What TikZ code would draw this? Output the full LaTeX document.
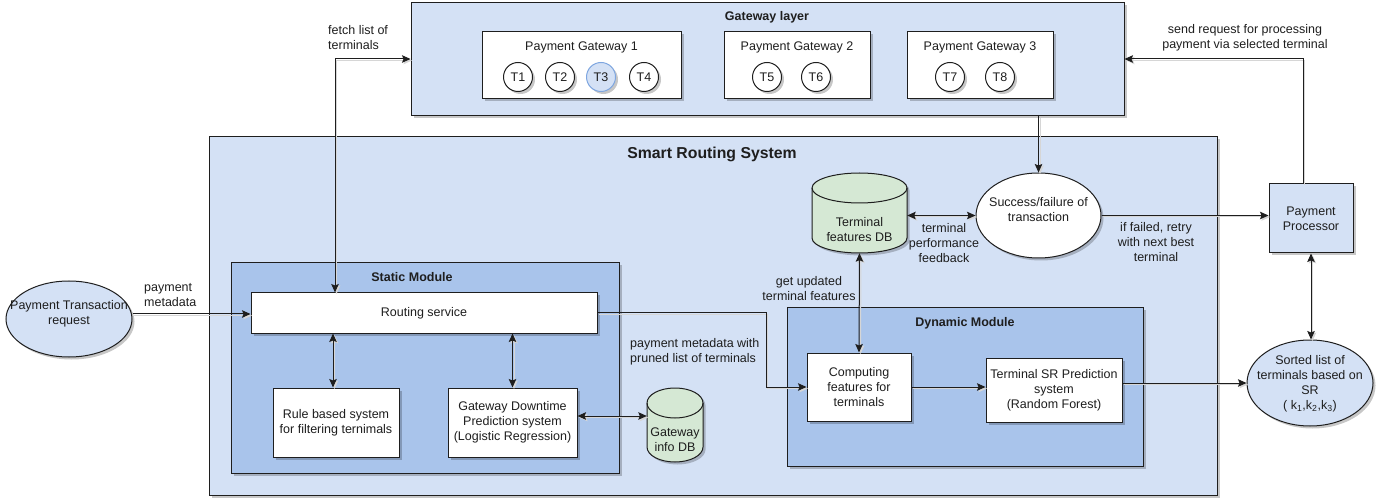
\documentclass[tikz,border=0pt]{standalone}
\usepackage{fontspec}
\setmainfont{Liberation Sans}
\usetikzlibrary{arrows.meta,shadows,shapes.geometric,calc}
\definecolor{lb}{HTML}{D4E1F5}
\definecolor{mb}{HTML}{A9C4EB}
\definecolor{gr}{HTML}{D5E8D4}
\definecolor{ln}{HTML}{1E1E1E}
\definecolor{tb}{HTML}{7EA6E0}
\newcommand\cylbody[5]{({#1-#4},{#2+#5}) -- ({#1-#4},{#3-#5}) .. controls ({#1-#4},{#3-#5+0.5523*#5}) and ({#1-0.5523*#4},{#3}) .. ({#1},{#3}) .. controls ({#1+0.5523*#4},{#3}) and ({#1+#4},{#3-#5+0.5523*#5}) .. ({#1+#4},{#3-#5}) -- ({#1+#4},{#2+#5}) .. controls ({#1+#4},{#2+#5-0.5523*#5}) and ({#1+0.5523*#4},{#2}) .. ({#1},{#2}) .. controls ({#1-0.5523*#4},{#2}) and ({#1-#4},{#2+#5-0.5523*#5}) .. ({#1-#4},{#2+#5}) -- cycle}
\newcommand\cyltop[5]{({#1-#4},{#2+#5}) .. controls ({#1-#4},{#2+#5+0.5523*#5}) and ({#1-0.5523*#4},{#2+2*#5}) .. ({#1},{#2+2*#5}) .. controls ({#1+0.5523*#4},{#2+2*#5}) and ({#1+#4},{#2+#5+0.5523*#5}) .. ({#1+#4},{#2+#5})}
\newcommand\dbdraw[5]{%
  \fill[black,opacity=0.22,shift={(2.5pt,-2.5pt)}] \cylbody{#1}{#2}{#3}{#4}{#5};
  \draw[ln,line width=1pt,fill=gr] \cylbody{#1}{#2}{#3}{#4}{#5};
  \draw[ln,line width=1pt] \cyltop{#1}{#2}{#3}{#4}{#5};}
\tikzset{
  base/.style={font=\fontsize{12.5}{15}\selectfont, text=ln},
  ttl/.style={font=\fontsize{12.5}{15}\selectfont\bfseries, text=ln},
  shad/.style={drop shadow={shadow xshift=2.5pt,shadow yshift=-2.5pt,opacity=0.22,fill=black}},
  box/.style={draw=ln, line width=1pt, rectangle, inner sep=0pt, shad, align=center},
  term/.style={draw=ln, line width=1pt, circle, fill=white, minimum size=29pt, inner sep=0pt, shad},
  ell/.style={draw=ln, line width=1pt, ellipse, inner sep=0pt, shad},
  lbl/.style={align=center, inner sep=1pt},
  cn/.style={draw=ln, line width=1pt, preaction={draw=black!16, line width=1pt, transform canvas={xshift=1.5pt,yshift=-1.5pt}}}
}
\begin{document}
\begin{tikzpicture}[x=1pt,y=-1pt, base, >={Stealth[length=8.5pt,width=7.5pt,inset=1.5pt]}]
\useasboundingbox (0,0) rectangle (1391,502);
% ---- Gateway layer
\node[box, fill=lb, minimum width=713pt, minimum height=113pt] (gw) at (767.5,59.5) {};
\node[ttl] (gwt) at (767,17) {Gateway layer};
\node[box, fill=white, minimum width=199pt, minimum height=67pt] (pg1) at (581.5,65.5) {};
\node (pg1t) at (581.5,47) {Payment Gateway 1};
\node[box, fill=white, minimum width=146pt, minimum height=67pt] (pg2) at (797,65.5) {};
\node (pg2t) at (797,47) {Payment Gateway 2};
\node[box, fill=white, minimum width=146pt, minimum height=67pt] (pg3) at (980,65.5) {};
\node (pg3t) at (980,47) {Payment Gateway 3};
\node[term] (t1) at (518,77) {T1};
\node[term] (t2) at (560,77) {T2};
\node[term, fill=lb, draw=tb] (t3) at (601,77) {T3};
\node[term] (t4) at (644,77) {T4};
\node[term] (t5) at (767,77) {T5};
\node[term] (t6) at (816,77) {T6};
\node[term] (t7) at (950,77) {T7};
\node[term] (t8) at (1000,77) {T8};
% ---- Smart routing system
\node[box, fill=lb, minimum width=1008pt, minimum height=358pt] (srs) at (713,316) {};
\node[font=\fontsize{15.8}{18}\selectfont\bfseries, text=ln] (srst) at (712,154) {Smart Routing System};
% static module
\node[box, fill=mb, minimum width=388pt, minimum height=210pt] (stat) at (425,368) {};
\node[ttl] (statt) at (412,277) {Static Module};
\node[box, fill=white, minimum width=346pt, minimum height=40pt] (routing) at (424,313) {Routing service};
\node[box, fill=white, minimum width=126pt, minimum height=69pt] (rule) at (336,422.5) {Rule based system\\for filtering ternimals};
\node[box, fill=white, minimum width=129pt, minimum height=69pt] (gdp) at (512.5,422.5) {Gateway Downtime\\Prediction system\\(Logistic Regression)};
% gateway info DB
\dbdraw{675}{388}{462}{28}{15}
\node[inner sep=0pt, minimum width=56pt, minimum height=74pt] (gwdb) at (675,425) {};
\node[lbl] (gwdbt) at (675,440) {Gateway\\info DB};
% dynamic module
\node[box, fill=mb, minimum width=356pt, minimum height=158pt] (dyn) at (965,387) {};
\node[ttl] (dynt) at (965,323) {Dynamic Module};
\node[box, fill=white, minimum width=104pt, minimum height=68pt] (comp) at (859,387) {Computing\\features for\\terminals};
\node[box, fill=white, minimum width=136pt, minimum height=64pt] (srp) at (1054,390) {Terminal SR Prediction\\system\\(Random Forest)};
% terminal features DB
\dbdraw{859.5}{173}{253}{47.5}{15}
\node[inner sep=0pt, minimum width=95pt, minimum height=80pt] (tfdb) at (859.5,213) {};
\node[lbl] (tfdbt) at (859.5,229.5) {Terminal\\features DB};
% success / failure
\node[ell, fill=white, minimum width=125pt, minimum height=85pt] (succ) at (1038.5,215.5) {};
\node[lbl] (succt) at (1038.5,210) {Success/failure of\\transaction};
% outside nodes
\node[ell, fill=lb, minimum width=126pt, minimum height=76pt] (pt) at (69,319) {};
\node[lbl] (ptt) at (69,314) {Payment Transaction\\request};
\node[box, fill=lb, minimum width=84pt, minimum height=69pt] (pp) at (1311,218.5) {Payment\\Processor};
\node[ell, fill=lb, minimum width=126pt, minimum height=86pt] (sorted) at (1310,383) {};
\node[lbl] (sortedt) at (1310,384) {Sorted list of\\terminals based on\\SR\\( k\textsubscript{1},k\textsubscript{2},k\textsubscript{3})};
% ---- connectors
\draw[cn,->] (pt.east |- 0,314) -- (routing.west |- 0,314);
\node[lbl, anchor=west, align=left] (l1) at (143,295) {payment\\metadata};
\coordinate (fk) at (335,59);
\draw[cn,<->] (routing.north -| fk) -- (fk) -- (gw.west |- fk);
\node[lbl, anchor=west, align=left] (l2) at (327,38) {fetch list of\\terminals};
\coordinate (rx) at (333,0);
\draw[cn,<->] (routing.south -| rx) -- (rule.north -| rx);
\draw[cn,<->] (routing.south -| gdp.north) -- (gdp.north);
\coordinate (gy) at (0,416);
\draw[cn,<->] (gdp.east |- gy) -- (gwdb.west |- gy);
\coordinate (pm) at (766,350);
\draw[cn,->] (routing.east) -| (pm) |- (comp.west);
\node[lbl, anchor=west, align=left] (l3) at (629,352) {payment metadata with\\pruned list of terminals};
\draw[cn,<->] (comp.north) -- (tfdb.south);
\node[lbl] (l4) at (809,289) {get updated\\terminal features};
\draw[cn,->] (comp.east) -- (comp.east -| srp.west);
\draw[cn,->] (srp.east |- sorted.west) -- (sorted.west);
\draw[cn,<->] (sorted.north -| pp.south) -- (pp.south);
\coordinate (sr) at (1303,59);
\draw[cn,->] (pp.north -| sr) -- (sr) -- (gw.east |- sr);
\node[lbl] (l5) at (1245,38) {send request for processing\\payment via selected terminal};
\draw[cn,->] (gw.south -| succ.north) -- (succ.north);
\draw[cn,<->] (tfdb.east |- succ.west) -- (succ.west);
\node[lbl] (l6) at (944,243) {terminal\\performance\\feedback};
\draw[cn,->] (succ.east) -- (succ.east -| pp.west);
\node[lbl] (l7) at (1156,242) {if failed, retry\\with next best\\terminal};
\end{tikzpicture}
\end{document}
